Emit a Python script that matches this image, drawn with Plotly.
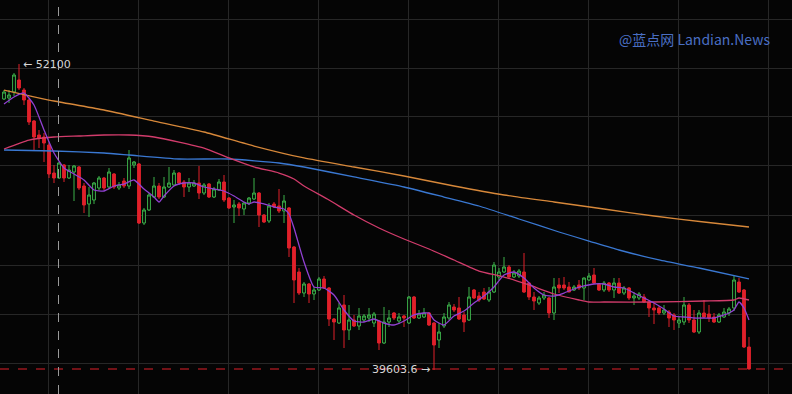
import plotly.graph_objects as go

# ---------------- data ----------------
opens = [50670, 50711, 50956, 51447, 51038, 50630, 49772, 49201, 49119, 48792,
         47648, 47445, 47976, 47445, 47689, 47894, 47118, 46383, 46546, 47036,
         47445, 47077, 47608, 47036, 47322, 47118, 47976, 48017, 45606, 46138,
         46668, 47118, 46668, 47077, 47159, 47648, 47281, 47077, 47118, 47240,
         46831, 47200, 46668, 46954, 47281, 46627, 46260, 46383, 46179, 46424,
         46587, 46831, 45933, 45688, 46383, 46301, 46097, 46220, 44626, 43605,
         42747, 43116, 42707, 42870, 43320, 42952, 41686, 41522, 42258, 41237,
         41645, 41400, 41645, 41727, 41522, 41604, 40705, 41563, 41931, 41604,
         41809, 41522, 42585, 41727, 41768, 41931, 41522, 40828, 41400, 41727,
         42177, 42136, 41850, 41645, 42870, 42625, 42788, 42462, 42788, 43401,
         43605, 43810, 43401, 43442, 43605, 43156, 42585, 42339, 42544, 42544,
         41931, 43075, 43075, 42993, 42870, 43075, 42952, 43279, 43483, 43116,
         42870, 43156, 42870, 43156, 42747, 42952, 42544, 42544, 42585, 42380,
         42136, 42136, 41931, 41972, 41850, 41522, 41563, 42258, 41645, 41155,
         41931, 41890, 41768, 41563, 41768, 41931, 42136, 43197, 42870, 40543]

highs = [51038, 51038, 51732, 52100, 51120, 50670, 49813, 49405, 49282, 48873,
         47976, 48098, 48017, 47976, 47976, 47935, 47240, 47077, 47281, 47526,
         47486, 47853, 47648, 47281, 47445, 48588, 48139, 48057, 46220, 46831,
         47486, 47240, 47486, 47894, 47771, 47689, 47363, 47445, 47363, 47935,
         47240, 47240, 47077, 47404, 47567, 46668, 46546, 46464, 46464, 46668,
         47445, 46872, 45974, 46424, 46464, 46995, 46750, 46260, 44667, 43769,
         43197, 43156, 42993, 43401, 43442, 42993, 41727, 42339, 42666, 42258,
         41850, 42136, 41890, 42136, 41972, 41645, 42177, 42054, 41972, 41931,
         41850, 42626, 42626, 42054, 42136, 41972, 41563, 41522, 41931, 42380,
         42299, 42585, 41972, 42993, 42911, 42788, 42952, 42993, 44014, 43769,
         44218, 43891, 43687, 43728, 44381, 43197, 42788, 42626, 42788, 42585,
         43360, 43360, 43401, 43197, 43075, 43279, 43380, 43564, 43769, 43156,
         43238, 43197, 43360, 43360, 43034, 42993, 42788, 42788, 42707, 42462,
         42339, 42217, 42258, 42054, 41931, 41768, 42585, 42339, 42054, 42054,
         42462, 42258, 41931, 41931, 42136, 42177, 43442, 43360, 42911, 40951]

lows = [50630, 50507, 50793, 51038, 50426, 49609, 48588, 48669, 48098, 47445,
        47240, 47404, 47281, 47404, 46505, 46954, 46015, 45852, 46383, 46954,
        46954, 47036, 46995, 46954, 47036, 46995, 47853, 45566, 45525, 46097,
        46627, 46587, 46627, 47036, 47118, 47159, 46668, 46872, 47077, 46587,
        46750, 46627, 46627, 46913, 46464, 46179, 45606, 45893, 45933, 46342,
        46546, 45443, 45606, 45606, 46220, 46015, 45606, 44218, 42339, 42666,
        42585, 42339, 42462, 42829, 42911, 41400, 40828, 41482, 40502, 40828,
        41359, 41237, 41563, 41563, 41359, 40420, 40665, 41359, 41645, 41482,
        41359, 41482, 41686, 41686, 41727, 41400, 39603.6, 40502, 41318, 41645,
        41972, 41645, 41155, 41604, 42503, 42380, 42462, 42380, 42747, 43279,
        43564, 43360, 43360, 43360, 42747, 42462, 42054, 42258, 42462, 41727,
        41645, 42747, 42870, 42780, 42829, 42870, 42462, 43238, 43116, 42829,
        42788, 42788, 42544, 42707, 42666, 42462, 42258, 42462, 42339, 41768,
        41482, 41850, 41850, 41359, 41237, 41318, 41441, 41522, 41114, 41073,
        41727, 41563, 41522, 41522, 41727, 41809, 42013, 42747, 40502, 39624]

closes = [50956, 50834, 51651, 51120, 50630, 49731, 49119, 49078, 48873, 47608,
          47445, 48057, 47445, 47771, 47935, 47036, 46342, 46750, 47240, 47445,
          47036, 47689, 47077, 47159, 47118, 48262, 48098, 45606, 46138, 46750,
          47118, 46668, 47077, 47240, 47648, 47240, 47077, 47240, 47240, 46831,
          47159, 46668, 46995, 47281, 46546, 46220, 46342, 46220, 46424, 46627,
          46831, 45933, 45647, 46301, 46260, 46097, 46505, 44585, 43279, 42747,
          43116, 42707, 42870, 43320, 42952, 41686, 41563, 42136, 41237, 41645,
          41400, 41809, 41809, 41850, 41890, 40705, 41563, 41727, 41727, 41768,
          41727, 42585, 41727, 41890, 41931, 41441, 40624, 41155, 41768, 42258,
          42054, 41686, 41563, 42585, 42544, 42462, 42503, 42788, 43891, 43605,
          43810, 43401, 43564, 43646, 42788, 42585, 42421, 42544, 42666, 41931,
          42993, 42952, 42952, 42788, 42993, 42952, 43360, 43442, 43156, 42870,
          43156, 42870, 43156, 42747, 42952, 42544, 42625, 42707, 42380, 42136,
          42054, 41931, 42054, 41727, 41645, 41645, 42258, 41645, 41155, 41931,
          41768, 41727, 41563, 41850, 41972, 42095, 43279, 42788, 40543, 39644]

candle_idx = list(range(len(closes)))

# moving averages
ma_fast_idx = [0, 2, 4, 6, 8, 10, 12, 14, 16, 18, 20, 22, 24, 26, 28, 30, 31, 32, 34, 36,
               38, 40, 42, 44, 46, 48, 49, 50, 52, 54, 56, 57, 58, 60, 62, 64, 66, 68, 70, 72,
               74, 76, 78, 80, 82, 84, 85, 86, 88, 90, 92, 94, 96, 98, 100, 102, 104, 106, 108, 110,
               112, 114, 116, 118, 120, 122, 124, 126, 128, 130, 132, 134, 136, 138, 140, 142, 144, 145, 146, 147,
               148, 149]
ma_fast = [50467, 50752, 50915, 50426, 49405, 48465, 47853, 47608, 47363, 46954,
           46913, 47118, 47199, 47363, 46995, 46668, 46464, 46709, 47118, 47240,
           47240, 47077, 46995, 46913, 46709, 46464, 46383, 46464, 46383, 46260,
           46179, 45974, 45403, 44014, 42993, 42952, 42666, 42054, 41604, 41563,
           41686, 41522, 41441, 41604, 41850, 41931, 41931, 41645, 41441, 41809,
           42013, 42339, 42625, 42993, 43483, 43605, 43360, 42952, 42666, 42625,
           42747, 42911, 43034, 43116, 43116, 42993, 42952, 42747, 42544, 42339,
           42095, 41809, 41768, 41727, 41727, 41727, 41850, 41931, 42054, 42380,
           42136, 41645]

ma_mid_idx = [0, 5, 10, 15, 20, 25, 30, 35, 40, 45, 50, 55, 58, 60, 65, 70, 75, 80, 85, 90,
              95, 100, 105, 110, 115, 117, 120, 130, 140, 146, 147, 149]
ma_mid = [48629, 48996, 49119, 49160, 49201, 49201, 49119, 48914, 48669, 48262,
          47894, 47648, 47404, 47118, 46546, 45933, 45403, 44953, 44545, 44096,
          43646, 43401, 43075, 42707, 42462, 42380, 42380, 42380, 42421, 42462,
          42544, 42462]

ma_slow_idx = [0, 10, 20, 25, 35, 45, 55, 60, 70, 80, 88, 95, 103, 111, 117, 123, 131, 139, 149]
ma_slow = [48588, 48547, 48465, 48384, 48221, 48221, 48057, 47894, 47486, 47077,
           46668, 46301, 45770, 45239, 44871, 44504, 44096, 43769, 43320]

ma_long_idx = [0, 10, 20, 30, 40, 50, 60, 70, 80, 90, 100, 110, 120, 130, 140, 149]
ma_long = [51038, 50589, 50222, 49772, 49323, 48751, 48262, 47894, 47526, 47118,
           46750, 46464, 46179, 45893, 45647, 45443]

grid_levels = [53938, 51937, 49936, 47935, 45933, 43891, 41890, 39889]

high_label = "← 52100"
low_label = "39603.6 →"
watermark = "@蓝点网 Landian.News"

# ---------------- figure ----------------
BG = "#050505"
GRID = "#272727"
UP = "#3db24b"
DOWN = "#e0212b"

fig = go.Figure()

fig.add_trace(go.Candlestick(
    x=candle_idx, open=opens, high=highs, low=lows, close=closes,
    increasing=dict(line=dict(color=UP, width=1), fillcolor=BG),
    decreasing=dict(line=dict(color=DOWN, width=1), fillcolor=DOWN),
    whiskerwidth=0, hoverinfo="skip", showlegend=False,
))

for xs, ys, col in [
    (ma_long_idx, ma_long, "#d7883a"),
    (ma_slow_idx, ma_slow, "#3a78d2"),
    (ma_mid_idx, ma_mid, "#d23c6c"),
    (ma_fast_idx, ma_fast, "#9141d2"),
]:
    fig.add_trace(go.Scatter(x=xs, y=ys, mode="lines",
                             line=dict(color=col, width=1.3, shape="spline", smoothing=0.5),
                             hoverinfo="skip", showlegend=False))

# current price (last close) dashed line
fig.add_shape(type="line", xref="paper", x0=0, x1=1, yref="y",
              y0=closes[-1], y1=closes[-1],
              line=dict(color=DOWN, width=1, dash="dash"), layer="above")

# crosshair
fig.add_shape(type="line", xref="x", x0=10.9, x1=10.9, yref="paper", y0=0, y1=1,
              line=dict(color="#9a9a9a", width=1, dash="dash"), layer="above")

hi_i = highs.index(max(highs))
lo_i = lows.index(min(lows))
fig.add_annotation(x=hi_i, y=max(highs), text=high_label, showarrow=False,
                   xanchor="left", yanchor="middle", xshift=2,
                   font=dict(family="DejaVu Sans", size=11, color="#d6d6d6"))
fig.add_annotation(x=lo_i, y=min(lows), text=low_label, showarrow=False,
                   xanchor="right", yanchor="middle", xshift=-2,
                   font=dict(family="DejaVu Sans", size=11, color="#d6d6d6"))
fig.add_annotation(xref="paper", yref="paper", x=0.975, y=0.902, text=watermark,
                   showarrow=False, xanchor="right", yanchor="middle",
                   font=dict(family="Noto Sans CJK SC", size=14, color="#4a6fc4"))

fig.update_layout(
    width=792, height=394,
    margin=dict(l=0, r=0, t=0, b=0),
    paper_bgcolor=BG, plot_bgcolor=BG,
    showlegend=False,
    boxgap=0.2,
    xaxis=dict(range=[-0.8, 157.6], showticklabels=False, zeroline=False,
               showgrid=True, gridcolor=GRID, gridwidth=1, tick0=8.8, dtick=18,
               rangeslider=dict(visible=False), fixedrange=True),
    yaxis=dict(range=[38623, 54714], showticklabels=False, zeroline=False,
               showgrid=True, gridcolor=GRID, gridwidth=1, tickmode="array",
               tickvals=grid_levels, fixedrange=True),
)

fig.write_html("out.html", config={"displayModeBar": False},
               post_script="document.body.style.margin='0';")
